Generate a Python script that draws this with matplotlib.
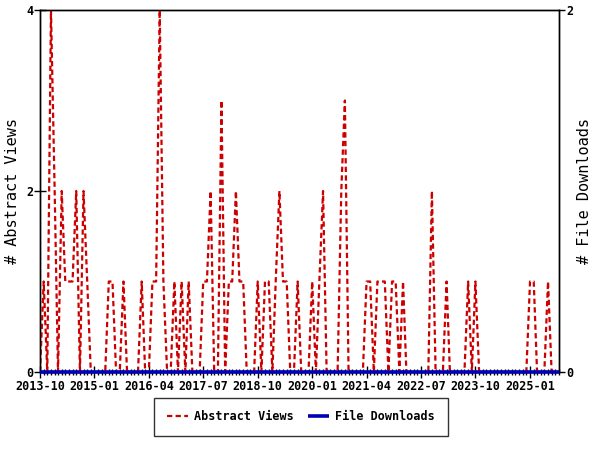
import matplotlib
matplotlib.use("Agg")
import matplotlib.pyplot as plt
import matplotlib.dates as mdates
import pandas as pd

start_month = "2013-10-01"
abstract_views = [0, 1, 0, 4, 2, 0, 2, 1, 1, 1, 2, 0, 2, 1, 0, 0, 0, 0, 0, 1,
                  1, 0, 0, 1, 0, 0, 0, 0, 1, 0, 0, 1, 1, 4, 1, 0, 0, 1, 0, 1,
                  0, 1, 0, 0, 0, 1, 1, 2, 0, 0, 3, 0, 1, 1, 2, 1, 1, 0, 0, 0,
                  1, 0, 1, 1, 0, 1, 2, 1, 1, 0, 0, 1, 0, 0, 0, 1, 0, 1, 2, 0,
                  0, 0, 0, 2, 3, 0, 0, 0, 0, 0, 1, 1, 0, 1, 1, 1, 0, 1, 1, 0,
                  1, 0, 0, 0, 0, 0, 0, 0, 2, 0, 0, 0, 1, 0, 0, 0, 0, 0, 1, 0,
                  1, 0, 0, 0, 0, 0, 0, 0, 0, 0, 0, 0, 0, 0, 0, 1, 1, 0, 0, 0,
                  1, 0, 0, 0]
file_downloads = [0] * len(abstract_views)
tick_labels = ["2013-10", "2015-01", "2016-04", "2017-07", "2018-10",
               "2020-01", "2021-04", "2022-07", "2023-10", "2025-01"]
left_ticks = [0, 2, 4]
right_ticks = [0, 2]

dates = pd.date_range(start_month, periods=len(abstract_views), freq="MS")
tick_dates = pd.to_datetime([t + "-01" for t in tick_labels])

plt.rcParams['lines.scale_dashes'] = False
mono = "DejaVu Sans Mono"
red = "#cc0000"
blue = "#0000b4"

fig = plt.figure(figsize=(6, 4.5), dpi=100)
ax = fig.add_axes([40/600, (450-372)/450, 519/600, 362/450])
ax2 = ax.twinx()
ax.set_zorder(1)
ax2.set_zorder(2)
ax2.patch.set_visible(False)

ax.plot(dates, abstract_views, color=red, lw=1.6, dashes=[3.8, 2.4],
        label="Abstract Views", zorder=3)
ax2.plot(dates, file_downloads, color=blue, lw=2.6, label="File Downloads",
         zorder=10, clip_on=False, solid_capstyle="butt")

ax.set_xlim(dates[0], dates[-1])
ax.set_ylim(0, 4)
ax2.set_ylim(0, 2)
ax.set_yticks(left_ticks)
ax2.set_yticks(right_ticks)
ax.set_xticks(tick_dates)
ax.set_xticklabels(tick_labels)
ax.xaxis.set_minor_locator(mdates.MonthLocator())

for a in (ax, ax2):
    for s in a.spines.values():
        s.set_linewidth(1.0)
        s.set_color("black")
ax2.spines["bottom"].set_visible(False)

ax.tick_params(axis='x', which='major', direction='inout', length=8, width=1,
               pad=2, labelsize=8.5)
ax.tick_params(axis='x', which='minor', direction='inout', length=5, width=1)
ax.tick_params(axis='y', direction='inout', length=8, width=1, pad=1,
               labelsize=8.5)
ax2.tick_params(axis='y', direction='out', length=4, width=1, pad=1,
                labelsize=8.5)
for lbl in ax.get_xticklabels() + ax.get_yticklabels() + ax2.get_yticklabels():
    lbl.set_fontfamily(mono)
    lbl.set_fontweight("bold")

ax.set_ylabel("# Abstract Views", fontfamily=mono, fontsize=11, labelpad=4)
ax2.set_ylabel("# File Downloads", fontfamily=mono, fontsize=11, labelpad=3)

h1, l1 = ax.get_legend_handles_labels()
h2, l2 = ax2.get_legend_handles_labels()
leg = fig.legend(h1 + h2, l1 + l2, loc="center",
                 bbox_to_anchor=(301/600, 1 - 417/450), ncol=2,
                 frameon=True, fancybox=False, edgecolor="black",
                 handlelength=1.8, handletextpad=0.5, columnspacing=1.2,
                 borderpad=1.1, borderaxespad=0,
                 prop={"family": mono, "weight": "bold", "size": 8.5})
leg.get_frame().set_linewidth(1.0)

fig.savefig("out.png", dpi=100)
